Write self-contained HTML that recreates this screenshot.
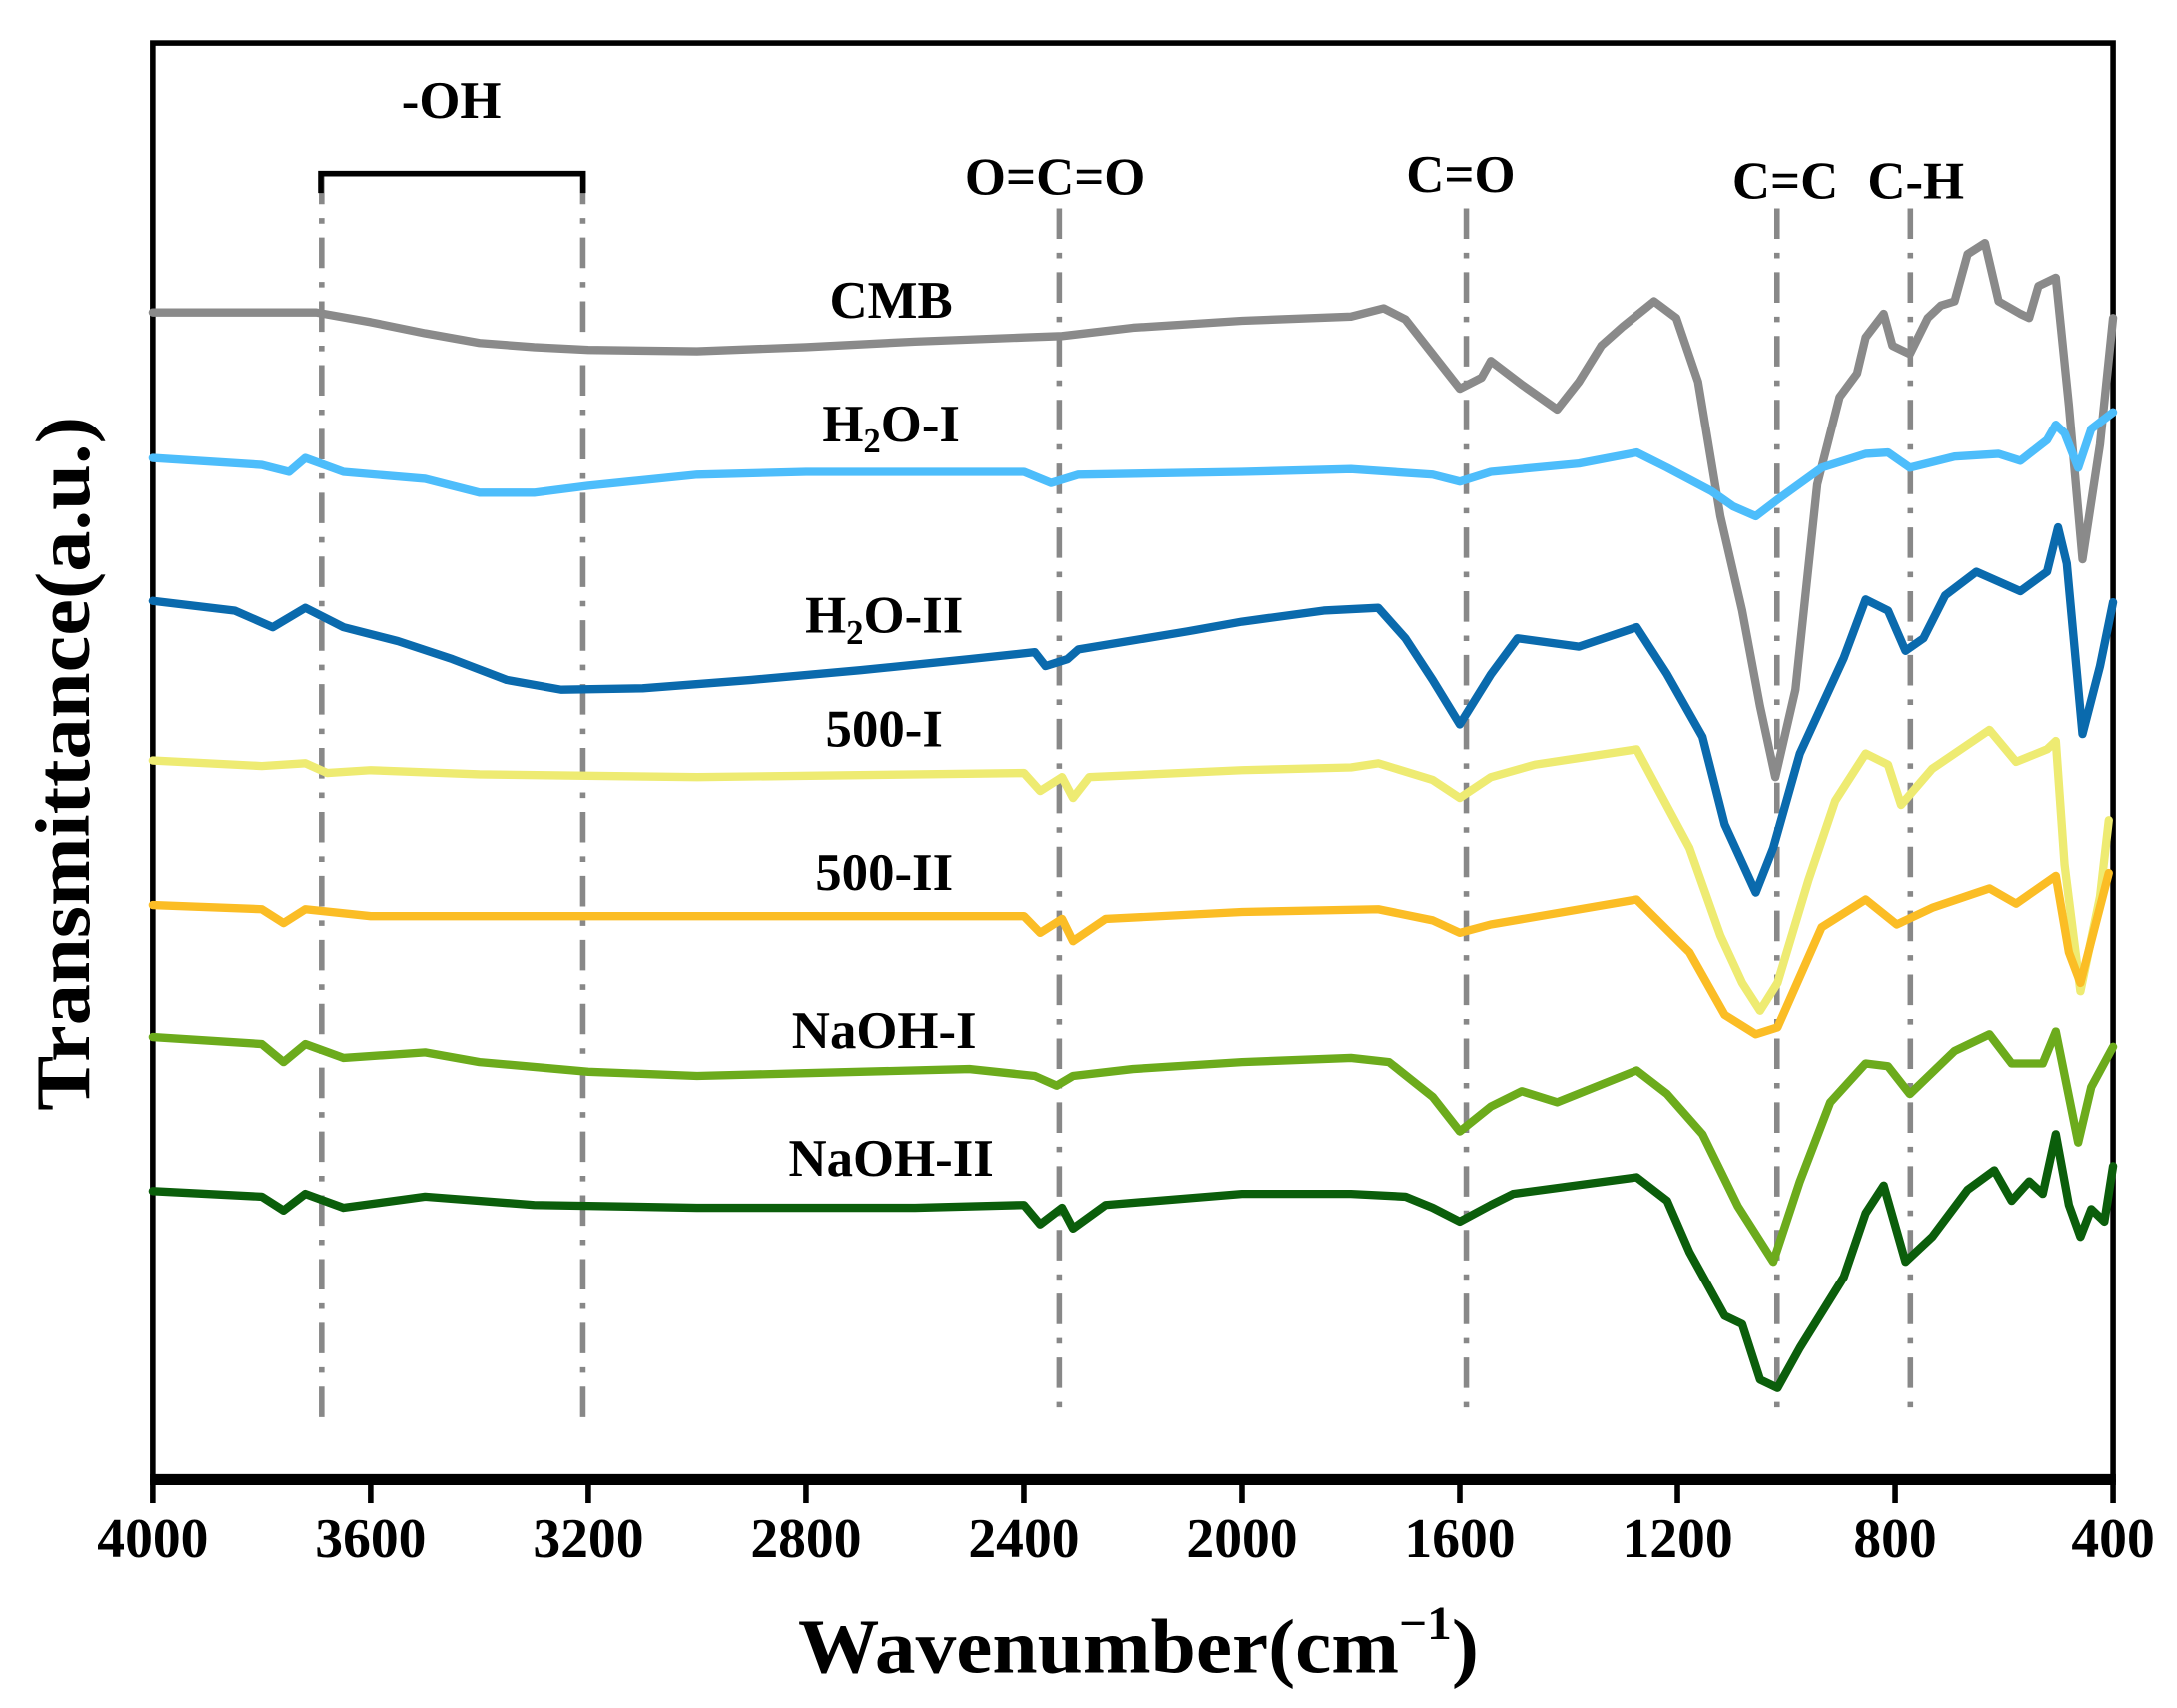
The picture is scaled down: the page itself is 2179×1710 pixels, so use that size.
<!DOCTYPE html>
<html><head><meta charset="utf-8"><style>
html,body{margin:0;padding:0;background:#fff;}
svg{display:block;font-family:"Liberation Serif",serif;font-weight:bold;}
</style></head><body>
<svg id="chart" width="2179" height="1710" viewBox="0 0 1568 1230.5" preserveAspectRatio="none" xmlns="http://www.w3.org/2000/svg">
<rect x="110" y="31" width="1412" height="1035" fill="none" stroke="#000" stroke-width="4"/>
<line x1="108" y1="1066" x2="1524" y2="1066" stroke="#000" stroke-width="8"/>
<g id="guides"></g>
<g id="series"></g>
<g id="ticks"></g>
<text x="325" y="85" font-size="38" text-anchor="middle">-OH</text>
<path d="M231,139 V125 H420 V139" fill="none" stroke="#000" stroke-width="4"/>
<text x="760" y="140" font-size="38" text-anchor="middle">O=C=O</text>
<text x="1052" y="138" font-size="38" text-anchor="middle">C=O</text>
<text x="1286" y="143" font-size="38" text-anchor="middle">C=C</text>
<text x="1380" y="143" font-size="38" text-anchor="middle">C-H</text>
<text x="642" y="229" font-size="38" text-anchor="middle">CMB</text>
<text x="642" y="318" font-size="38" text-anchor="middle">H<tspan font-size="25" dy="8">2</tspan><tspan dy="-8">O-I</tspan></text>
<text x="637" y="456" font-size="38" text-anchor="middle">H<tspan font-size="25" dy="8">2</tspan><tspan dy="-8">O-II</tspan></text>
<text x="637" y="538" font-size="38" text-anchor="middle">500-I</text>
<text x="637" y="641" font-size="38" text-anchor="middle">500-II</text>
<text x="637" y="755" font-size="38" text-anchor="middle">NaOH-I</text>
<text x="642" y="847" font-size="38" text-anchor="middle">NaOH-II</text>
<text x="575" y="1205" font-size="56" textLength="490" lengthAdjust="spacingAndGlyphs">Wavenumber(cm<tspan font-size="34" dy="-24">−1</tspan><tspan dy="24">)</tspan></text>
<text transform="translate(64,550) rotate(-90)" font-size="56" text-anchor="middle" textLength="500" lengthAdjust="spacingAndGlyphs">Transmittance(a.u.)</text>
</svg>
<script>
const xTicks = [4000,3600,3200,2800,2400,2000,1600,1200,800,400];
const guideWaves = [3690,3210,2335,1588,1017,772];
const cmbW = [4000,3700,3600,3500,3400,3300,3200,3000,2800,2600,2400,2330,2200,2000,1800,1740,1700,1650,1600,1560,1543,1486,1421,1381,1340,1300,1243,1202,1162,1121,1081,1048,1020,983,943,902,870,854,821,805,773,740,716,691,667,635,610,570,554,537,505,481,456,424,400];
const cmbV = [84.1,84.1,83.4,82.6,81.9,81.6,81.4,81.3,81.6,82.0,82.3,82.4,83.0,83.5,83.8,84.4,83.6,81.1,78.6,79.4,80.6,78.9,77.1,79.1,81.7,83.1,84.9,83.7,79.1,69.4,62.6,55.7,50.6,56.9,71.7,78.0,79.7,82.3,84.0,81.7,81.1,83.7,84.6,84.9,88.3,89.1,84.9,84.0,83.7,86.0,86.6,77.4,66.3,74.6,83.7];
const h1W = [4000,3800,3750,3720,3650,3500,3400,3300,3200,3000,2800,2400,2350,2300,2000,1800,1650,1600,1543,1381,1275,1219,1137,1097,1056,1016,935,854,813,773,691,610,570,521,505,489,464,440,400];
const h1V = [73.6,73.1,72.6,73.6,72.6,72.1,71.1,71.1,71.6,72.4,72.6,72.6,71.8,72.4,72.6,72.8,72.4,71.9,72.6,73.2,74.0,72.9,71.2,70.1,69.4,70.6,72.9,73.9,74.0,72.9,73.7,73.9,73.4,74.9,76.0,75.4,72.9,75.7,76.9];
const h2W = [4000,3850,3780,3720,3650,3550,3450,3350,3250,3100,2900,2700,2500,2380,2360,2320,2300,2100,2000,1850,1750,1700,1650,1600,1543,1494,1381,1275,1219,1154,1113,1056,1024,975,894,854,813,781,748,708,651,570,521,501,485,456,424,400];
const h2V = [63.3,62.6,61.4,62.8,61.4,60.4,59.1,57.6,56.9,57.0,57.6,58.3,59.1,59.6,58.6,59.1,59.8,61.1,61.8,62.6,62.8,60.6,57.6,54.4,58.0,60.6,60.0,61.4,58.0,53.5,47.2,42.3,45.5,52.3,59.2,63.4,62.6,59.7,60.6,63.7,65.4,64.0,65.4,68.6,66.0,53.7,58.6,63.2];
const f1W = [4000,3800,3720,3680,3600,3400,3000,2400,2370,2330,2310,2280,2000,1800,1750,1650,1600,1543,1462,1275,1178,1121,1081,1048,1016,959,910,854,813,789,732,627,578,521,505,489,460,424,408];
const f1V = [51.8,51.4,51.6,50.9,51.1,50.8,50.6,50.9,49.6,50.6,49.1,50.6,51.1,51.3,51.6,50.4,49.1,50.6,51.5,52.6,45.5,39.2,35.8,33.8,35.8,43.2,48.9,52.3,51.5,48.6,51.2,54.0,51.7,52.6,53.2,44.3,35.2,42.0,47.5];
const f2W = [4000,3800,3760,3720,3600,3200,2800,2400,2370,2330,2310,2250,2000,1750,1650,1600,1543,1275,1178,1113,1056,1016,935,854,797,732,627,578,505,481,460,408];
const f2V = [41.4,41.1,40.1,41.1,40.6,40.6,40.6,40.6,39.4,40.4,38.8,40.4,40.9,41.1,40.3,39.4,40.0,41.8,38.0,33.5,32.1,32.6,39.8,41.8,40.0,41.2,42.6,41.5,43.5,38.0,35.8,43.7];
const n1W = [4000,3800,3760,3720,3650,3500,3400,3200,3000,2800,2500,2380,2340,2310,2200,2000,1800,1730,1650,1600,1543,1486,1421,1275,1219,1154,1089,1024,975,919,854,813,773,691,627,586,529,505,464,440,400];
const n1V = [31.9,31.4,30.1,31.4,30.4,30.8,30.1,29.4,29.1,29.3,29.6,29.1,28.4,29.1,29.6,30.1,30.4,30.1,27.6,25.1,26.9,28.0,27.2,29.5,27.8,24.9,19.7,15.7,21.5,27.2,30.0,29.8,27.8,30.9,32.1,30.0,30.0,32.3,24.3,28.3,31.2];
const n2W = [4000,3800,3760,3720,3650,3500,3300,3000,2600,2400,2370,2330,2310,2250,2000,1800,1700,1650,1600,1543,1502,1275,1219,1178,1113,1081,1048,1016,975,894,854,821,781,732,667,618,586,554,529,505,481,460,440,416,400];
const n2V = [20.8,20.4,19.4,20.6,19.6,20.4,19.8,19.6,19.6,19.8,18.4,19.6,18.1,19.8,20.6,20.6,20.4,19.6,18.6,19.8,20.6,21.8,20.1,16.4,11.8,11.2,7.2,6.6,9.5,14.6,19.2,21.2,15.7,17.5,20.9,22.3,20.1,21.5,20.6,24.9,19.8,17.5,19.5,18.6,22.6];

const X0=110, X1=1522;
function xs(w){return X0+(4000-w)*(X1-X0)/3600;}
function ys(v){return 1066-v*10;}
const NS='http://www.w3.org/2000/svg';

const guides=document.getElementById('guides');
guideWaves.forEach((w,i)=>{
  const l=document.createElementNS(NS,'line');
  
  
  const top = i<2 ? 125 : 150;
  l.setAttribute('x1',xs(w));l.setAttribute('x2',xs(w));
  l.setAttribute('y1',top);l.setAttribute('y2',1022);
  l.setAttribute('stroke','#888');l.setAttribute('stroke-width','4');
  l.setAttribute('stroke-dasharray','22,10,4,10');
  guides.appendChild(l);
});

const ticks=document.getElementById('ticks');
xTicks.forEach(t=>{
  const l=document.createElementNS(NS,'line');
  
  
  l.setAttribute('x1',xs(t));l.setAttribute('x2',xs(t));
  l.setAttribute('y1',1066);l.setAttribute('y2',1083);
  l.setAttribute('stroke','#000');l.setAttribute('stroke-width','4');
  ticks.appendChild(l);
  const tx=document.createElementNS(NS,'text');
  
  
  tx.setAttribute('x',xs(t));tx.setAttribute('y',1122);
  tx.setAttribute('font-size','40');tx.setAttribute('text-anchor','middle');
  tx.textContent=t;
  ticks.appendChild(tx);
});

const seriesList=[
  ['series-cmb',cmbW,cmbV,'#8a8a8a'],
  ['series-h2o-i',h1W,h1V,'#4dbdfb'],
  ['series-h2o-ii',h2W,h2V,'#0a6aad'],
  ['series-500-i',f1W,f1V,'#eeeb72'],
  ['series-500-ii',f2W,f2V,'#fbbd25'],
  ['series-naoh-i',n1W,n1V,'#6cab1c'],
  ['series-naoh-ii',n2W,n2V,'#0b5e0b']
];
const sg=document.getElementById('series');
seriesList.forEach(s=>{
  const p=document.createElementNS(NS,'path');
  
  
  let d='';
  s[1].forEach((w,i)=>{d+=(i?'L':'M')+xs(w).toFixed(1)+','+ys(s[2][i]).toFixed(1);});
  p.setAttribute('d',d);
  p.setAttribute('fill','none');p.setAttribute('stroke',s[3]);
  p.setAttribute('stroke-width','6');p.setAttribute('stroke-linejoin','round');p.setAttribute('stroke-linecap','round');
  sg.appendChild(p);
});
</script>
</body></html>
